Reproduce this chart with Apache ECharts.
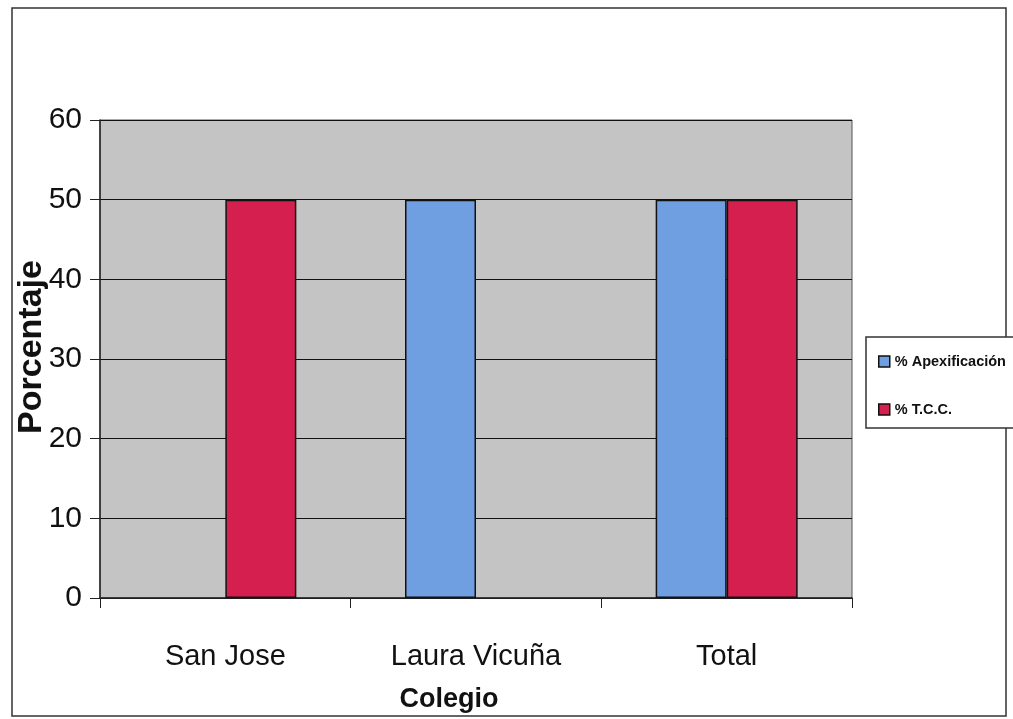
<!DOCTYPE html>
<html><head><meta charset="utf-8">
<script src="https://cdn.jsdelivr.net/npm/echarts@6/dist/echarts.min.js"></script>
<style>html,body{margin:0;padding:0;background:#fff}#c{width:1013px;height:719px}</style>
</head><body><div id="c"></div>
<script>
const categories = ['San Jose', 'Laura Vicuña', 'Total'];
const apexificacion = [null, 50, 50];
const tcc = [50, null, 50];
const yTicks = [0, 10, 20, 30, 40, 50, 60];

const chart = echarts.init(document.getElementById('c'));
const font = '"Liberation Sans", Arial, sans-serif';
chart.setOption({
  animation: false,
  backgroundColor: '#ffffff',
  graphic: [{
    type: 'rect', shape: {x: 12, y: 8, width: 994, height: 708},
    style: {fill: 'none', stroke: '#333', lineWidth: 1.5}, z: -1
  }],
  grid: {left: 100, right: 161, top: 120, bottom: 121, show: true,
         outerBoundsMode: 'none', containLabel: false,
         backgroundColor: '#c4c4c4', borderColor: '#555', borderWidth: 1},
  legend: {
    orient: 'vertical', left: 866, top: 337, icon: 'rect',
    itemWidth: 11, itemHeight: 11, itemGap: 33,
    padding: [17, 30, 11, 12],
    borderColor: '#333', borderWidth: 1.5, backgroundColor: '#fff',
    textStyle: {fontFamily: font, fontSize: 14.5, fontWeight: 'bold', color: '#111'},
    data: [
      {name: '% Apexificación', itemStyle: {borderColor: '#111', borderWidth: 1.5}},
      {name: '% T.C.C.', itemStyle: {borderColor: '#111', borderWidth: 1.5}}
    ]
  },
  xAxis: {
    type: 'category', data: categories,
    name: 'Colegio', nameLocation: 'middle', nameGap: 88,
    nameTextStyle: {fontFamily: font, fontSize: 27, fontWeight: 'bold', color: '#111', padding: [0, 54, 0, 0]},
    axisLine: {lineStyle: {color: '#222', width: 1.5}},
    axisTick: {show: true, length: 10, lineStyle: {color: '#222'}},
    axisLabel: {margin: 44, fontFamily: font, fontSize: 29, color: '#111'}
  },
  yAxis: {
    type: 'value', min: 0, max: 60, interval: 10,
    name: 'Porcentaje', nameLocation: 'middle', nameGap: 51, nameRotate: 90,
    nameMoveOverlap: false,
    nameTextStyle: {fontFamily: font, fontSize: 34, fontWeight: 'bold', color: '#111', padding: [0, 0, 0, 24]},
    axisLine: {show: true, lineStyle: {color: '#222', width: 1.5}},
    axisTick: {show: true, inside: false, length: 10, lineStyle: {color: '#222'}},
    axisLabel: {margin: 18, fontFamily: font, fontSize: 30, color: '#111',
      formatter: v => yTicks.includes(v) ? String(v) : ''},
    splitLine: {lineStyle: {color: '#111', width: 1}}
  },
  series: [
    {name: '% Apexificación', type: 'bar', data: apexificacion, barWidth: 71, barGap: '0%',
     itemStyle: {color: '#6f9fe0', borderColor: '#111', borderWidth: 1.5}},
    {name: '% T.C.C.', type: 'bar', data: tcc, barWidth: 71, barGap: '0%',
     itemStyle: {color: '#d41f4f', borderColor: '#111', borderWidth: 1.5}}
  ]
});
</script></body></html>
